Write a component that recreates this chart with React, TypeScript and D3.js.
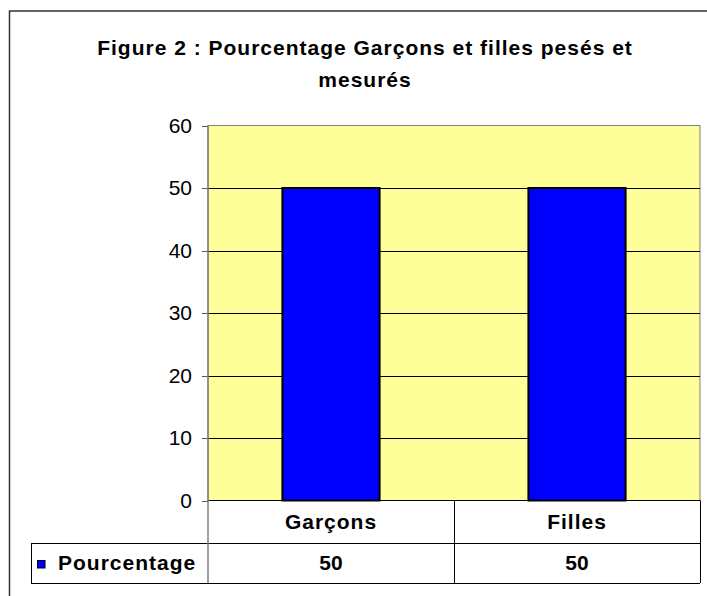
import * as d3 from "d3";

const categories = ["Garçons", "Filles"];
const values = [50, 50];
const seriesName = "Pourcentage";
const yTicks = [0, 10, 20, 30, 40, 50, 60];
const titleLines = ["Figure 2 : Pourcentage Garçons et filles pesés et", "mesurés"];

const W = 707;
const H = 596;
const plot = { left: 208, right: 700, top: 125.5, bottom: 500.5 };
const table = { left: 31, rowMid: 543, bottom: 583 };
const FONT = "Arial, 'Liberation Sans', sans-serif";

export default function App() {
  const x = d3.scaleBand().domain(categories).range([plot.left, plot.right]).padding(0);
  const y = d3.scaleLinear().domain([0, 60]).range([plot.bottom, plot.top]);
  const barW = x.bandwidth() * 0.395;

  return (
    <div style={{ position: "absolute", left: 0, top: 0 }}>
      <svg width={W} height={H} style={{ display: "block", background: "#fff" }}>
        {/* outer frame */}
        <rect x={9.5} y={11} width={720} height={600} fill="none" stroke="#333" strokeWidth={1.5} />

        {/* title */}
        {titleLines.map((t, i) => (
          <text
            key={i}
            x={365}
            y={55 + i * 32}
            textAnchor="middle"
            fontFamily={FONT}
            fontWeight="bold"
            fontSize={21}
            letterSpacing={1}
            fill="#000"
          >
            {t}
          </text>
        ))}

        {/* plot area */}
        <rect
          x={plot.left}
          y={plot.top}
          width={plot.right - plot.left}
          height={plot.bottom - plot.top}
          fill="#FFFF99"
          stroke="#808080"
          strokeWidth={1}
        />

        {/* gridlines */}
        {yTicks.filter((t) => t > 0 && t < 60).map((t) => (
          <line key={t} x1={plot.left} x2={plot.right} y1={Math.round(y(t)) + 0.5} y2={Math.round(y(t)) + 0.5} stroke="#000" />
        ))}

        {/* bars */}
        {categories.map((c, i) => (
          <rect
            key={c}
            x={(x(c) || 0) + x.bandwidth() / 2 - barW / 2}
            y={y(values[i])}
            width={barW}
            height={y(0) - y(values[i])}
            fill="#0000FF"
            stroke="#000"
            strokeWidth={2}
          />
        ))}

        {/* y axis ticks and labels */}
        {yTicks.map((t) => (
          <g key={t}>
            <line x1={plot.left - 6} x2={plot.left} y1={Math.round(y(t)) + 0.5} y2={Math.round(y(t)) + 0.5} stroke="#555" />
            <text
              x={192}
              y={y(t)}
              dy="0.35em"
              textAnchor="end"
              fontFamily={FONT}
              fontSize={21}
              fill="#000"
            >
              {t}
            </text>
          </g>
        ))}

        {/* baseline */}
        <line x1={plot.left} x2={plot.right} y1={plot.bottom} y2={plot.bottom} stroke="#000" />

        {/* data table */}
        <line x1={table.left} x2={plot.right} y1={table.rowMid + 0.5} y2={table.rowMid + 0.5} stroke="#000" />
        <line x1={table.left} x2={plot.right} y1={table.bottom + 0.5} y2={table.bottom + 0.5} stroke="#000" />
        <line x1={table.left + 0.5} x2={table.left + 0.5} y1={table.rowMid} y2={table.bottom} stroke="#000" />
        <line x1={plot.left} x2={plot.left} y1={plot.top} y2={table.bottom} stroke="#808080" strokeWidth={1.5} />
        <line x1={plot.right + 0.5} x2={plot.right + 0.5} y1={plot.bottom} y2={table.bottom} stroke="#000" />
        {categories.slice(1).map((c) => (
          <line key={c} x1={(x(c) || 0) + 0.5} x2={(x(c) || 0) + 0.5} y1={plot.bottom} y2={table.bottom} stroke="#000" />
        ))}

        {categories.map((c, i) => (
          <g key={c}>
            <text
              x={(x(c) || 0) + x.bandwidth() / 2}
              y={(plot.bottom + table.rowMid) / 2}
              dy="0.35em"
              textAnchor="middle"
              fontFamily={FONT}
              fontWeight="bold"
              fontSize={21}
              letterSpacing={1}
            >
              {c}
            </text>
            <text
              x={(x(c) || 0) + x.bandwidth() / 2}
              y={(table.rowMid + table.bottom) / 2}
              dy="0.35em"
              textAnchor="middle"
              fontFamily={FONT}
              fontWeight="bold"
              fontSize={21}
            >
              {values[i]}
            </text>
          </g>
        ))}

        {/* legend key */}
        <rect x={37.5} y={560.5} width={7.5} height={7.5} fill="#0000FF" stroke="#000" strokeWidth={1} />
        <text
          x={58}
          y={(table.rowMid + table.bottom) / 2}
          dy="0.35em"
          fontFamily={FONT}
          fontWeight="bold"
          fontSize={21}
          letterSpacing={1}
        >
          {seriesName}
        </text>
      </svg>
    </div>
  );
}
